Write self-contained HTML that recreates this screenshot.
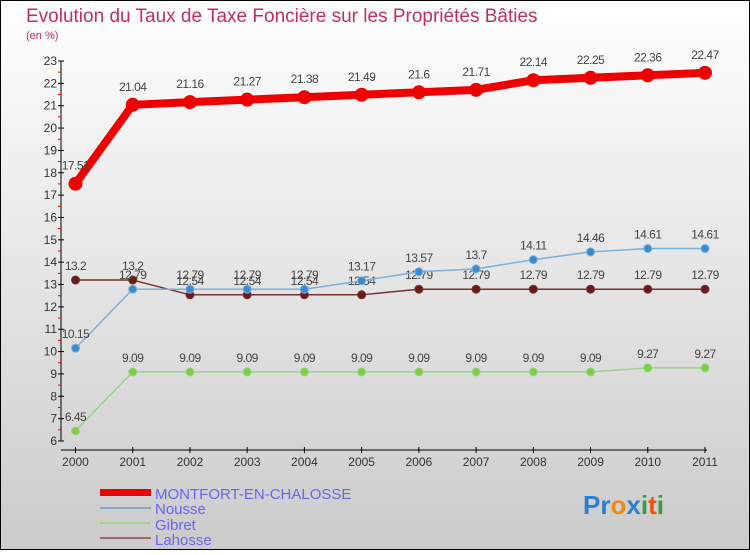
<!DOCTYPE html>
<html><head><meta charset="utf-8"><style>
html,body{margin:0;padding:0}
body{width:750px;height:550px;overflow:hidden;font-family:"Liberation Sans",sans-serif}
</style></head><body>
<svg id="c" width="750" height="550" xmlns="http://www.w3.org/2000/svg">
<defs><linearGradient id="bg" x1="0" y1="0" x2="0" y2="1"><stop offset="0" stop-color="#ffffff"/><stop offset="1" stop-color="#cbcbcb"/></linearGradient></defs>
<rect x="0.5" y="0.5" width="749" height="549" fill="url(#bg)" stroke="#000"/>
<text x="26" y="22" font-size="19" fill="#c0305a">Evolution du Taux de Taxe Foncière sur les Propriétés Bâties</text>
<text x="26" y="39" font-size="11" fill="#c0305a">(en %)</text>
<g id="axes"></g><g id="series"></g>
<g>
<rect x="100" y="489" width="51" height="7" fill="#ee0000"/>
<text x="155" y="499" font-size="15" fill="#6666ee">MONTFORT-EN-CHALOSSE</text>
<rect x="100" y="507" width="51" height="2" fill="#7faed0"/>
<text x="155" y="514" font-size="15" fill="#6666ee">Nousse</text>
<rect x="100" y="522" width="51" height="2" fill="#9ed08a"/>
<text x="155" y="530" font-size="15" fill="#6666ee">Gibret</text>
<rect x="100" y="537" width="51" height="2" fill="#9a6a6a"/>
<text x="155" y="545" font-size="15" fill="#6666ee">Lahosse</text>
</g>
<text x="583" y="514" font-size="26" font-weight="bold"><tspan fill="#2a7fd0">Pr</tspan><tspan fill="#f08a10">o</tspan><tspan fill="#2a7fd0">x</tspan><tspan fill="#30a040">i</tspan><tspan fill="#f05010">t</tspan><tspan fill="#30a040">i</tspan></text>
</svg>
<script>
const years=["2000","2001","2002","2003","2004","2005","2006","2007","2008","2009","2010","2011"];
const yTicks=[6,7,8,9,10,11,12,13,14,15,16,17,18,19,20,21,22,23];
const montfort=[17.51,21.04,21.16,21.27,21.38,21.49,21.6,21.71,22.14,22.25,22.36,22.47];
const nousse=[10.15,12.79,12.79,12.79,12.79,13.17,13.57,13.7,14.11,14.46,14.61,14.61];
const gibret=[6.45,9.09,9.09,9.09,9.09,9.09,9.09,9.09,9.09,9.09,9.27,9.27];
const lahosse=[13.2,13.2,12.54,12.54,12.54,12.54,12.79,12.79,12.79,12.79,12.79,12.79];
const NS="http://www.w3.org/2000/svg";
const X0=75.5,X1=705,Y0=441,Y1=61,VMIN=6,VMAX=23;
const xs=i=>X0+(X1-X0)*i/(years.length-1);
const ys=v=>Y0-(v-VMIN)*(Y0-Y1)/(VMAX-VMIN);
function mk(t,a,p){const e=document.createElementNS(NS,t);for(const k in a)e.setAttribute(k,a[k]);p.appendChild(e);return e;}
const ax=document.getElementById('axes');
let l=mk('line',{x1:61,y1:Y1,x2:61,y2:Y0,stroke:'#000'},ax);


l=mk('line',{x1:61,y1:450,x2:X1+2,y2:450,stroke:'#000'},ax);


yTicks.forEach((v,i)=>{
  const y=ys(v);
  mk('line',{x1:58,y1:y,x2:64,y2:y,stroke:'#000'},ax);
  if(i<yTicks.length-1)mk('line',{x1:58,y1:y-11.2,x2:61,y2:y-11.2,stroke:'#e00'},ax);
  const t=mk('text',{x:57,y:y+4,'font-size':12,'text-anchor':'end',fill:'#333'},ax);
  t.textContent=v;
  
  
});
years.forEach((yr,i)=>{
  const x=xs(i);
  mk('line',{x1:x,y1:447,x2:x,y2:453,stroke:'#000'},ax);
  const t=mk('text',{x:x,y:466,'font-size':12,'text-anchor':'middle',fill:'#333'},ax);
  t.textContent=yr;
  
  
});
const sg=document.getElementById('series');
function series(vals,name,color,dot,lw,r,lab){
  const g=mk('g',{},sg);
  
  
  const p=mk('polyline',{points:vals.map((v,i)=>xs(i)+','+ys(v)).join(' '),fill:'none',stroke:color,'stroke-width':lw,'stroke-linejoin':'round'},g);
  
  
  vals.forEach((v,i)=>{
    const c=mk('circle',{cx:xs(i),cy:ys(v),r:r,fill:dot,stroke:color,'stroke-width':1},g);
    
    
    const t=mk('text',{x:xs(i),y:ys(v)-lab,'font-size':12,'text-anchor':'middle',fill:'#444','letter-spacing':'-0.5'},g);
    t.textContent=v;
    
    
  });
}
series(gibret,'gibret','#9ed08a','#7cd040',1.5,4,10);
series(lahosse,'lahosse','#7a3030','#6a1a1a',1.5,4,10);
series(nousse,'nousse','#7ab0dc','#3a8ad0',1.5,4,10);
series(montfort,'montfort','#ee0000','#ee0000',8,6.5,14);
</script>
</body></html>
